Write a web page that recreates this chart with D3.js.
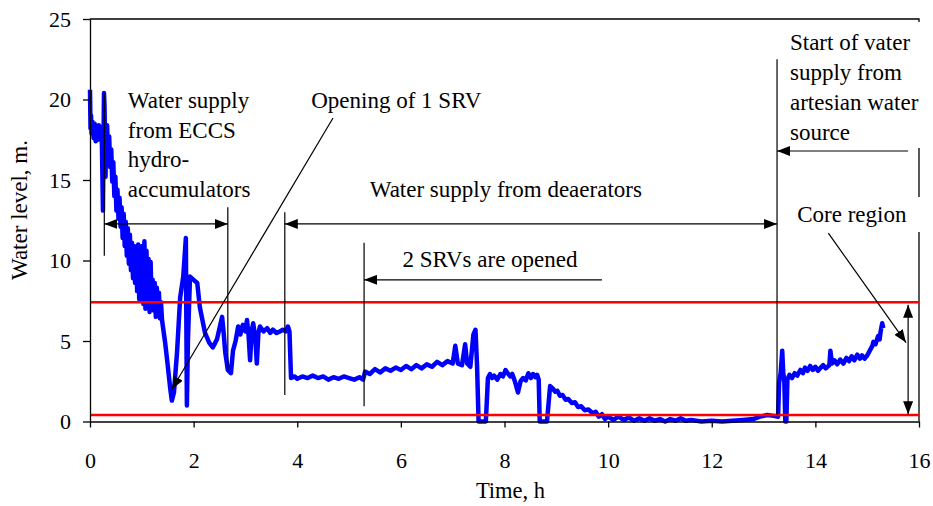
<!DOCTYPE html>
<html>
<head>
<meta charset="utf-8">
<script src="https://cdn.jsdelivr.net/npm/d3@7"></script>
<style>
  body { margin: 0; background: #fff; }
  text { font-family: "Liberation Serif", "Times New Roman", serif; }
</style>
</head>
<body>
<div id="chart"></div>
<script>
// water level (m) against time (h), one array per phase
var startPhase = [[0, 20.6], [0.01, 18.2], [0.02, 19.0], [0.03, 17.9], [0.05, 18.6], [0.07, 17.6], [0.09, 18.5],
  [0.11, 17.4], [0.13, 18.2], [0.15, 17.5], [0.17, 18.4], [0.19, 17.6], [0.21, 18.3], [0.23, 17.2], [0.25, 13.1],
  [0.26, 17.0], [0.27, 20.4], [0.28, 19.6], [0.30, 15.2]];
var eccsPhase = [[0.31, 18.0], [0.33, 18.4], [0.35, 16.6], [0.37, 17.7], [0.39, 15.8], [0.41, 16.9], [0.43, 14.9],
  [0.45, 16.1], [0.47, 14.0], [0.49, 15.2], [0.51, 13.1], [0.53, 14.4], [0.55, 12.6], [0.57, 13.9], [0.59, 12.1],
  [0.61, 13.3], [0.63, 11.4], [0.65, 12.9], [0.67, 10.9], [0.69, 12.4], [0.71, 10.3], [0.73, 12.0], [0.75, 9.8],
  [0.77, 11.6], [0.79, 9.4], [0.81, 11.1], [0.83, 8.9], [0.85, 10.9], [0.87, 8.6], [0.89, 10.7], [0.91, 8.1],
  [0.93, 11.0], [0.95, 7.6], [0.97, 10.4], [0.99, 7.9], [1.01, 10.9], [1.03, 7.3], [1.05, 11.2], [1.07, 7.0],
  [1.09, 10.6], [1.11, 7.4], [1.13, 10.1], [1.15, 6.8], [1.17, 9.9], [1.19, 7.2], [1.21, 8.8], [1.23, 6.9],
  [1.25, 8.6], [1.27, 6.5], [1.29, 8.3], [1.31, 6.7], [1.33, 8.0], [1.35, 6.4], [1.37, 7.4], [1.39, 6.3],
  [1.45, 4.9], [1.50, 3.5], [1.55, 2.0], [1.58, 1.3], [1.62, 1.8], [1.68, 4.3], [1.74, 7.7], [1.80, 9.0],
  [1.85, 11.4], [1.86, 6.0], [1.87, 1.0], [1.89, 5.0], [1.93, 9.0], [2.00, 8.8], [2.07, 8.6], [2.12, 7.1],
  [2.22, 5.5], [2.30, 4.9], [2.37, 4.6], [2.45, 5.1], [2.55, 6.5], [2.58, 5.5], [2.61, 4.3], [2.66, 3.2],
  [2.72, 3.0], [2.76, 4.4], [2.81, 5.0], [2.86, 5.9], [2.90, 5.4], [2.95, 6.0], [3.00, 5.6], [3.03, 6.3],
  [3.06, 5.4], [3.09, 3.8], [3.12, 5.6], [3.15, 6.1], [3.19, 5.2], [3.22, 3.6], [3.25, 5.5], [3.28, 5.9],
  [3.35, 5.6], [3.42, 5.8], [3.48, 5.5], [3.53, 5.7], [3.60, 5.5], [3.67, 5.6], [3.72, 5.7], [3.78, 5.6],
  [3.82, 5.9], [3.85, 5.6]];
var deaeratorPhase = [[3.88, 2.7], [3.95, 2.8], [4.0, 2.65], [4.1, 2.8], [4.2, 2.7], [4.3, 2.85], [4.4, 2.7],
  [4.5, 2.8], [4.6, 2.6], [4.7, 2.75], [4.8, 2.65], [4.9, 2.8], [5.0, 2.7], [5.1, 2.6], [5.2, 2.75], [5.27, 2.6],
  [5.31, 3.1], [5.4, 2.95], [5.5, 3.25], [5.6, 3.05], [5.7, 3.3], [5.8, 3.15], [5.9, 3.35], [6.0, 3.2],
  [6.1, 3.45], [6.2, 3.25], [6.3, 3.5], [6.4, 3.3], [6.5, 3.55], [6.6, 3.4], [6.7, 3.7], [6.8, 3.5],
  [6.9, 3.75], [7.0, 3.6], [7.05, 4.7], [7.10, 3.6], [7.18, 3.5], [7.24, 4.8], [7.28, 3.6], [7.34, 3.4],
  [7.40, 5.4], [7.44, 5.7], [7.47, 3.5], [7.50, 0], [7.64, 0], [7.68, 2.7], [7.72, 2.95], [7.76, 2.7],
  [7.80, 2.85], [7.86, 2.6], [7.92, 2.95], [7.97, 2.8], [8.02, 3.2], [8.06, 3.0], [8.11, 2.8], [8.15, 2.95],
  [8.20, 2.5], [8.26, 1.8], [8.31, 2.5], [8.36, 2.7], [8.41, 2.55], [8.46, 3.0], [8.51, 2.7], [8.55, 2.95],
  [8.60, 2.75], [8.63, 2.9], [8.66, 2.6], [8.68, 0], [8.82, 0], [8.88, 2.2], [8.93, 2.05], [8.98, 1.85],
  [9.02, 1.9], [9.07, 1.6], [9.12, 1.65], [9.18, 1.35], [9.23, 1.4], [9.30, 1.15], [9.36, 1.2], [9.42, 0.9],
  [9.48, 0.95], [9.55, 0.7], [9.62, 0.75], [9.70, 0.5], [9.76, 0.6], [9.82, 0.3], [9.88, 0.45], [9.94, 0.15],
  [10.0, 0.3], [10.1, 0.1], [10.2, 0.3], [10.3, 0.1], [10.4, 0.25], [10.5, 0.05], [10.6, 0.2], [10.7, 0.05],
  [10.8, 0.2], [10.9, 0.05], [11.0, 0.15], [11.1, 0.0], [11.2, 0.15], [11.3, 0.05], [11.4, 0.2], [11.5, 0.05],
  [11.6, 0.1], [11.8, 0.0], [12.0, 0.05], [12.2, 0.0], [12.4, 0.05], [12.6, 0.1], [12.8, 0.15], [12.93, 0.3],
  [13.07, 0.4], [13.2, 0.35], [13.28, 0.3]];
var artesianPhase = [[13.30, 2.4], [13.33, 3.0], [13.36, 4.4], [13.38, 3.0], [13.40, 2.6], [13.42, 0], [13.44, 0],
  [13.46, 2.6], [13.50, 2.9], [13.55, 2.7], [13.60, 3.0], [13.65, 2.85], [13.71, 3.2], [13.76, 3.0], [13.80, 3.35],
  [13.85, 3.15], [13.90, 3.45], [13.95, 3.2], [14.00, 3.4], [14.05, 3.15], [14.09, 3.3], [14.15, 3.5], [14.20, 3.3],
  [14.27, 3.5], [14.29, 4.4], [14.32, 3.6], [14.37, 3.8], [14.42, 3.55], [14.48, 3.85], [14.54, 3.6], [14.60, 3.95],
  [14.65, 3.75], [14.70, 4.05], [14.75, 3.8], [14.81, 4.15], [14.86, 3.9], [14.90, 4.1], [14.95, 3.9], [15.00, 4.1],
  [15.05, 4.4], [15.10, 4.7], [15.12, 4.95], [15.16, 4.8], [15.21, 5.3], [15.24, 5.1], [15.26, 5.6], [15.29, 6.1],
  [15.31, 5.8]];

var limitLevels = [7.4, 0.4];
var xTicks = [0, 2, 4, 6, 8, 10, 12, 14, 16];
var yTicks = [0, 5, 10, 15, 20, 25];

var margin = { top: 19, left: 90, right: 14, bottom: 84.5 },
  width = 933 - margin.left - margin.right,
  height = 506 - margin.top - margin.bottom;

var svg = d3.select("#chart")
  .append("svg")
  .attr("width", 933)
  .attr("height", 506)
  .append("g")
  .attr("transform", "translate(" + margin.left + "," + margin.top + ")");

var x = d3.scaleLinear().domain([0, 16]).range([0, width]);
var y = d3.scaleLinear().domain([0, 25]).range([height, 0]);

svg.append("defs").append("marker")
  .attr("id", "head")
  .attr("markerUnits", "userSpaceOnUse")
  .attr("markerWidth", 14)
  .attr("markerHeight", 10)
  .attr("refX", 13)
  .attr("refY", 5)
  .attr("orient", "auto-start-reverse")
  .append("path")
  .attr("d", "M0,0L13,5L0,10Z")
  .attr("fill", "black");

// frame top and right
svg.append("path")
  .attr("d", "M0," + y(25) + "H" + x(16) + "V" + y(0))
  .attr("fill", "none")
  .attr("stroke", "black")
  .attr("stroke-width", 1.3);

var points = startPhase.concat(eccsPhase, deaeratorPhase, artesianPhase);

var line = d3.line()
  .x(function(d) { return x(d[0]); })
  .y(function(d) { return y(d[1]); });

svg.append("path")
  .datum(points)
  .attr("d", line)
  .attr("fill", "none")
  .attr("stroke", "#0000ff")
  .attr("stroke-width", 4.5)
  .attr("stroke-linejoin", "round");

svg.selectAll(".limit")
  .data(limitLevels)
  .enter().append("line")
  .attr("class", "limit")
  .attr("x1", 0)
  .attr("x2", x(16))
  .attr("y1", function(d) { return y(d); })
  .attr("y2", function(d) { return y(d); })
  .attr("stroke", "red")
  .attr("stroke-width", 2.5);

// axes
var xAxis = d3.axisBottom(x).tickValues(xTicks).tickSize(6).tickSizeOuter(0).tickPadding(25);
var yAxis = d3.axisLeft(y).tickValues(yTicks).tickSize(7).tickSizeOuter(0).tickPadding(12);

svg.append("g")
  .attr("class", "axis x-axis")
  .attr("transform", "translate(0," + height + ")")
  .call(xAxis);

svg.append("g")
  .attr("class", "axis y-axis")
  .call(yAxis);

svg.selectAll(".axis path, .axis line").attr("stroke", "black").attr("stroke-width", 1.3);
svg.selectAll(".axis text").attr("font-size", "22px").attr("fill", "black")
  .style("font-family", "'Liberation Serif', serif");

svg.append("text")
  .attr("x", x(8) + 6)
  .attr("y", 479)
  .attr("text-anchor", "middle")
  .attr("font-size", "22.5px")
  .text("Time, h");

svg.append("text")
  .attr("transform", "translate(" + (27 - margin.left) + "," + (210 - margin.top) + ") rotate(-90)")
  .attr("text-anchor", "middle")
  .attr("font-size", "23px")
  .text("Water level, m.");

// annotations
function seg(t1, v1, t2, v2, heads) {
  var l = svg.append("line")
    .attr("x1", x(t1)).attr("y1", y(v1))
    .attr("x2", x(t2)).attr("y2", y(v2))
    .attr("stroke", "black")
    .attr("stroke-width", 1.2);
  if (heads === "end" || heads === "both") l.attr("marker-end", "url(#head)");
  if (heads === "start" || heads === "both") l.attr("marker-start", "url(#head)");
}

seg(0.276, 20.4, 0.276, 10.3);
seg(0.276, 12.27, 2.66, 12.27, "both");
seg(2.66, 13.3, 2.66, 3.2);
seg(3.76, 13.0, 3.76, 1.65);
seg(3.76, 12.27, 13.26, 12.27, "both");
seg(13.26, 22.5, 13.26, 0.4);
seg(5.29, 11.1, 5.29, 0.95);
seg(9.88, 8.8, 5.29, 8.8, "end");
seg(4.69, 18.85, 1.58, 2.0, "end");

function label(lines, tx, baseline, step) {
  var t = svg.append("text")
    .attr("font-size", "23px")
    .attr("fill", "black");
  lines.forEach(function(s, i) {
    t.append("tspan")
      .attr("x", x(tx))
      .attr("y", baseline - margin.top + i * step)
      .text(s);
  });
}

// white boxes behind right-hand labels
svg.append("rect")
  .attr("x", 783 - margin.left).attr("y", 22 - margin.top)
  .attr("width", 140).attr("height", 126)
  .attr("fill", "white");
svg.append("rect")
  .attr("x", 785 - margin.left).attr("y", 197 - margin.top)
  .attr("width", 140).attr("height", 35)
  .attr("fill", "white");

seg(15.79, 16.8, 13.26, 16.8, "end");
seg(15.79, 7.25, 15.79, 0.45, "both");
seg(14.25, 11.7, 15.75, 4.9, "end");

label(["Water supply", "from ECCS", "hydro-", "accumulators"], 0.73, 108, 29.7);
label(["Opening of 1 SRV"], 4.27, 108, 0);
label(["Water supply from deaerators"], 5.4, 197, 0);
label(["2 SRVs are opened"], 6.03, 267, 0);
label(["Start of vater", "supply from", "artesian water", "source"], 13.51, 50, 30);
label(["Core region"], 13.65, 222, 0);
</script>
</body>
</html>
